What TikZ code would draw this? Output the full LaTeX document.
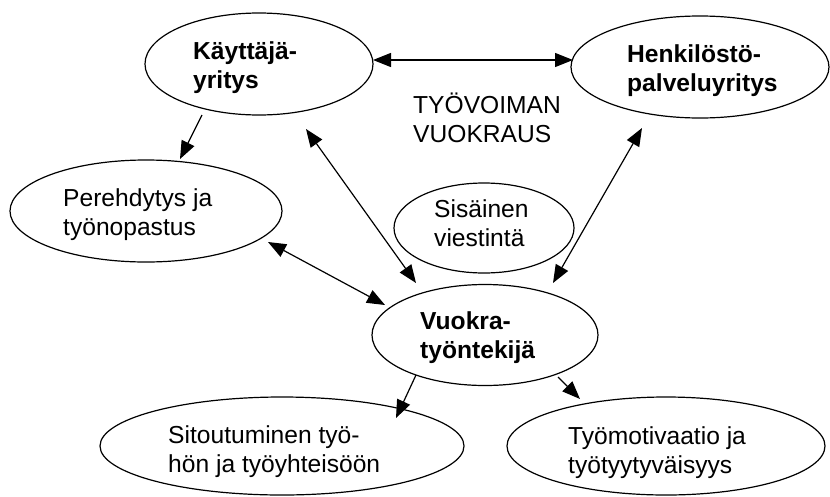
\documentclass[tikz,border=0pt]{standalone}
\usepackage{fontspec}
\setmainfont{Liberation Sans}
\usetikzlibrary{shapes.geometric,arrows.meta}
\newcommand{\twoln}[2]{\vtop{\baselineskip=29pt\lineskiplimit=-50pt\hbox{#1}\hbox{#2}}}
\begin{document}
\begin{tikzpicture}[x=1pt,y=-1pt,
  oval/.style={draw, ellipse, line width=1.2pt, inner sep=0pt, outer sep=0pt},
  lbl/.style={anchor=base west, inner sep=0pt, font=\fontsize{24.6}{29}\selectfont},
  lblb/.style={anchor=base west, inner sep=0pt, font=\fontsize{24.6}{29}\selectfont\bfseries},
  conn/.style={line width=1.2pt, -{Triangle[length=18pt,width=14pt]}},
  both/.style={line width=1.2pt, {Triangle[length=18pt,width=14pt]}-{Triangle[length=18pt,width=14pt]}}]
\useasboundingbox (0,0) rectangle (830,496);
% ellipses
\node[oval, minimum width=228pt, minimum height=102pt] (K) at (259,64) {};
\node[oval, minimum width=258pt, minimum height=102pt] (H) at (700,67) {};
\node[oval, minimum width=272pt, minimum height=102pt] (P) at (146,211) {};
\node[oval, minimum width=180pt, minimum height=90pt] (S) at (484,228) {};
\node[oval, minimum width=226pt, minimum height=101pt] (V) at (485,335) {};
\node[oval, minimum width=364pt, minimum height=98pt] (Si) at (282,446) {};
\node[oval, minimum width=318pt, minimum height=98pt] (T) at (666,446) {};
% texts
\node[lblb] (Kt) at (193,59) {\twoln{Käyttäjä-}{yritys}};
\node[lblb] (Ht) at (627,62) {\twoln{Henkilöstö-}{palveluyritys}};
\node[lbl] (Pt) at (63,206) {\twoln{Perehdytys ja}{työnopastus}};
\node[lbl] (St) at (434,217) {\twoln{Sisäinen}{viestintä}};
\node[lbl] (TV) at (413,113) {\twoln{TYÖVOIMAN}{VUOKRAUS}};
\node[lblb] (Vt) at (420,329) {\twoln{Vuokra-}{työntekijä}};
\node[lbl] (Sit) at (168,443) {\twoln{Sitoutuminen työ-}{hön ja työyhteisöön}};
\node[lbl] (Tt) at (568,444) {\twoln{Työmotivaatio ja}{työtyytyväisyys}};
% connectors
\draw[both] ([shift={(114,-4)}]K.center) -- ([shift={(-127,-7)}]H.center);
\draw[conn] ([shift={(-57,51)}]K.center) -- ([shift={(34,-52)}]P.center);
\draw[both] ([shift={(47,65)}]K.center) -- ([shift={(-69,-52)}]V.center);
\draw[both] ([shift={(-58,61)}]H.center) -- ([shift={(68,-52)}]V.center);
\draw[both] ([shift={(122,31)}]P.center) -- ([shift={(-100,-30)}]V.center);
\draw[conn] ([shift={(-69,40)}]V.center) -- ([shift={(114,-28)}]Si.center);
\draw[conn] ([shift={(73,42)}]V.center) -- ([shift={(-86,-47)}]T.center);
\end{tikzpicture}
\end{document}
